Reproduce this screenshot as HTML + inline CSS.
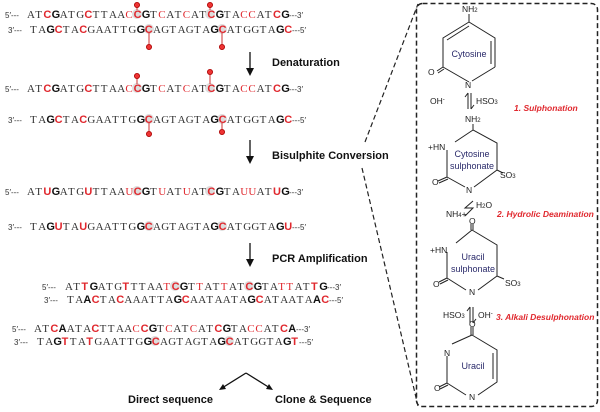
<!DOCTYPE html>
<html><head><meta charset="utf-8"><style>
html,body{margin:0;padding:0;background:#fff}
svg{display:block}
.s{font-family:"Liberation Serif",serif;font-size:11px;fill:#333}
.p{font-family:"Liberation Sans",sans-serif;font-size:8px;fill:#333}
.b{font-family:"Liberation Sans",sans-serif;font-weight:bold;fill:#111}
.r{fill:#e0282e}
.R{font-family:"Liberation Sans",sans-serif;font-weight:bold;fill:#e0282e}
.lab{font-family:"Liberation Sans",sans-serif;font-weight:bold;font-size:11px;fill:#111}
.ch{font-family:"Liberation Sans",sans-serif;font-size:8.5px;fill:#222}
.nm{font-family:"Liberation Sans",sans-serif;font-size:9px;fill:#2a2a6a}
.st{font-family:"Liberation Sans",sans-serif;font-size:8.5px;font-weight:bold;font-style:italic;fill:#e0282e}
</style></head><body>
<svg width="600" height="412" viewBox="0 0 600 412" xmlns="http://www.w3.org/2000/svg">

<!-- Row 1 (double) -->
<g>
<circle cx="137" cy="14" r="5" fill="#ddd"/><circle cx="210" cy="14" r="5" fill="#ddd"/>
<circle cx="149" cy="29" r="5" fill="#ddd"/><circle cx="222" cy="29" r="5" fill="#ddd"/>
<line x1="137" y1="6" x2="137" y2="10" stroke="#c33"/><circle cx="137" cy="5" r="2.6" fill="#e33" stroke="#a00" stroke-width="0.8"/>
<line x1="210" y1="6" x2="210" y2="10" stroke="#c33"/><circle cx="210" cy="5" r="2.6" fill="#e33" stroke="#a00" stroke-width="0.8"/>
<line x1="149" y1="33" x2="149" y2="45" stroke="#c33"/><circle cx="149" cy="47" r="2.6" fill="#e33" stroke="#a00" stroke-width="0.8"/>
<line x1="222" y1="33" x2="222" y2="45" stroke="#c33"/><circle cx="222" cy="47" r="2.6" fill="#e33" stroke="#a00" stroke-width="0.8"/>
<text class="p" x="5" y="18">5′---</text>
<text class="s" y="18" x="27 35.2 43.4 51.6 59.8 68 76.2 84.4 92.6 100.8 109 117.2 125.4 133.6 141.8 150 158.2 166.4 174.6 182.8 191 199.2 207.4 215.6 223.8 232 240.2 248.4 256.6 264.8 273 281.2">AT<tspan class="R">C</tspan><tspan class="b">G</tspan>ATG<tspan class="R">C</tspan>TTAA<tspan class="r">C</tspan><tspan class="R">C</tspan><tspan class="b">G</tspan>T<tspan class="r">C</tspan>AT<tspan class="r">C</tspan>AT<tspan class="R">C</tspan><tspan class="b">G</tspan>TA<tspan class="r">CC</tspan>AT<tspan class="R">C</tspan><tspan class="b">G</tspan></text>
<text class="p" x="289" y="18">---3′</text>
<text class="p" x="8" y="33">3′---</text>
<text class="s" y="33" x="30 38.2 46.4 54.6 62.8 71 79.2 87.4 95.6 103.8 112 120.2 128.4 136.6 144.8 153 161.2 169.4 177.6 185.8 194 202.2 210.4 218.6 226.8 235 243.2 251.4 259.6 267.8 276 284.2">TA<tspan class="b">G</tspan><tspan class="R">C</tspan>TA<tspan class="R">C</tspan>GAATTG<tspan class="b">G</tspan><tspan class="R">C</tspan>AGTAGTA<tspan class="b">G</tspan><tspan class="R">C</tspan>ATGGTA<tspan class="b">G</tspan><tspan class="R">C</tspan></text>
<text class="p" x="292" y="33">---5′</text>
</g>

<!-- Denaturation rows -->
<g>
<circle cx="137" cy="88" r="5" fill="#ddd"/><circle cx="210" cy="88" r="5" fill="#ddd"/>
<circle cx="149" cy="119" r="5" fill="#ddd"/><circle cx="222" cy="119" r="5" fill="#ddd"/>
<line x1="137" y1="78" x2="137" y2="84" stroke="#c33"/><circle cx="137" cy="76" r="2.6" fill="#e33" stroke="#a00" stroke-width="0.8"/>
<line x1="210" y1="75" x2="210" y2="84" stroke="#c33"/><circle cx="210" cy="72" r="2.6" fill="#e33" stroke="#a00" stroke-width="0.8"/>
<line x1="149" y1="123" x2="149" y2="132" stroke="#c33"/><circle cx="149" cy="134" r="2.6" fill="#e33" stroke="#a00" stroke-width="0.8"/>
<line x1="222" y1="123" x2="222" y2="130" stroke="#c33"/><circle cx="222" cy="132" r="2.6" fill="#e33" stroke="#a00" stroke-width="0.8"/>
<text class="p" x="5" y="92">5′---</text>
<text class="s" y="92" x="27 35.2 43.4 51.6 59.8 68 76.2 84.4 92.6 100.8 109 117.2 125.4 133.6 141.8 150 158.2 166.4 174.6 182.8 191 199.2 207.4 215.6 223.8 232 240.2 248.4 256.6 264.8 273 281.2">AT<tspan class="R">C</tspan><tspan class="b">G</tspan>ATG<tspan class="R">C</tspan>TTAA<tspan class="r">C</tspan><tspan class="R">C</tspan><tspan class="b">G</tspan>T<tspan class="r">C</tspan>AT<tspan class="r">C</tspan>AT<tspan class="R">C</tspan><tspan class="b">G</tspan>TA<tspan class="r">CC</tspan>AT<tspan class="R">C</tspan><tspan class="b">G</tspan></text>
<text class="p" x="289" y="92">---3′</text>
<text class="p" x="8" y="123">3′---</text>
<text class="s" y="123" x="30 38.2 46.4 54.6 62.8 71 79.2 87.4 95.6 103.8 112 120.2 128.4 136.6 144.8 153 161.2 169.4 177.6 185.8 194 202.2 210.4 218.6 226.8 235 243.2 251.4 259.6 267.8 276 284.2">TA<tspan class="b">G</tspan><tspan class="R">C</tspan>TA<tspan class="R">C</tspan>GAATTG<tspan class="b">G</tspan><tspan class="R">C</tspan>AGTAGTA<tspan class="b">G</tspan><tspan class="R">C</tspan>ATGGTA<tspan class="b">G</tspan><tspan class="R">C</tspan></text>
<text class="p" x="292" y="123">---5′</text>
</g>

<!-- Bisulphite rows -->
<g>
<circle cx="137" cy="191" r="5" fill="#ddd"/><circle cx="210" cy="191" r="5" fill="#ddd"/>
<circle cx="149" cy="226" r="5" fill="#ddd"/><circle cx="222" cy="226" r="5" fill="#ddd"/>
<text class="p" x="5" y="195">5′---</text>
<text class="s" y="195" x="27 35.2 43.4 51.6 59.8 68 76.2 84.4 92.6 100.8 109 117.2 125.4 133.6 141.8 150 158.2 166.4 174.6 182.8 191 199.2 207.4 215.6 223.8 232 240.2 248.4 256.6 264.8 273 281.2">AT<tspan class="R">U</tspan><tspan class="b">G</tspan>ATG<tspan class="R">U</tspan>TTAA<tspan class="r">U</tspan><tspan class="R">C</tspan><tspan class="b">G</tspan>T<tspan class="r">U</tspan>AT<tspan class="r">U</tspan>AT<tspan class="R">C</tspan><tspan class="b">G</tspan>TA<tspan class="r">UU</tspan>AT<tspan class="R">U</tspan><tspan class="b">G</tspan></text>
<text class="p" x="289" y="195">---3′</text>
<text class="p" x="8" y="230">3′---</text>
<text class="s" y="230" x="30 38.2 46.4 54.6 62.8 71 79.2 87.4 95.6 103.8 112 120.2 128.4 136.6 144.8 153 161.2 169.4 177.6 185.8 194 202.2 210.4 218.6 226.8 235 243.2 251.4 259.6 267.8 276 284.2">TA<tspan class="b">G</tspan><tspan class="R">U</tspan>TA<tspan class="R">U</tspan>GAATTG<tspan class="b">G</tspan><tspan class="R">C</tspan>AGTAGTA<tspan class="b">G</tspan><tspan class="R">C</tspan>ATGGTA<tspan class="b">G</tspan><tspan class="R">U</tspan></text>
<text class="p" x="292" y="230">---5′</text>
</g>

<!-- PCR rows 1 -->
<g>
<circle cx="175" cy="286" r="5" fill="#ddd"/><circle cx="249" cy="286" r="5" fill="#ddd"/>
<text class="p" x="42" y="290">5′---</text>
<text class="s" y="290" x="65 73.2 81.4 89.6 97.8 106 114.2 122.4 130.6 138.8 147 155.2 163.4 171.6 179.8 188 196.2 204.4 212.6 220.8 229 237.2 245.4 253.6 261.8 270 278.2 286.4 294.6 302.8 311 319.2">AT<tspan class="R">T</tspan><tspan class="b">G</tspan>ATG<tspan class="R">T</tspan>TTAA<tspan class="r">T</tspan><tspan class="R">C</tspan><tspan class="b">G</tspan>T<tspan class="r">T</tspan>AT<tspan class="r">T</tspan>AT<tspan class="R">C</tspan><tspan class="b">G</tspan>TA<tspan class="r">TT</tspan>AT<tspan class="R">T</tspan><tspan class="b">G</tspan></text>
<text class="p" x="327" y="290">---3′</text>
<text class="p" x="44" y="303">3′---</text>
<text class="s" y="303" x="67 75.2 83.4 91.6 99.8 108 116.2 124.4 132.6 140.8 149 157.2 165.4 173.6 181.8 190 198.2 206.4 214.6 222.8 231 239.2 247.4 255.6 263.8 272 280.2 288.4 296.6 304.8 313 321.2">TA<tspan class="b">A</tspan><tspan class="R">C</tspan>TA<tspan class="R">C</tspan>AAATTA<tspan class="b">G</tspan><tspan class="R">C</tspan>AATAATA<tspan class="b">G</tspan><tspan class="R">C</tspan>ATAATA<tspan class="b">A</tspan><tspan class="R">C</tspan></text>
<text class="p" x="329" y="303">---5′</text>
</g>

<!-- PCR rows 2 -->
<g>
<circle cx="155" cy="341" r="5" fill="#ddd"/><circle cx="229" cy="341" r="5" fill="#ddd"/>
<text class="p" x="12" y="332">5′---</text>
<text class="s" y="332" x="34 42.2 50.4 58.6 66.8 75 83.2 91.4 99.6 107.8 116 124.2 132.4 140.6 148.8 157 165.2 173.4 181.6 189.8 198 206.2 214.4 222.6 230.8 239 247.2 255.4 263.6 271.8 280 288.2">AT<tspan class="R">C</tspan><tspan class="b">A</tspan>ATA<tspan class="R">C</tspan>TTAA<tspan class="r">C</tspan><tspan class="R">C</tspan><tspan class="b">G</tspan>T<tspan class="r">C</tspan>AT<tspan class="r">C</tspan>AT<tspan class="R">C</tspan><tspan class="b">G</tspan>TA<tspan class="r">CC</tspan>AT<tspan class="R">C</tspan><tspan class="b">A</tspan></text>
<text class="p" x="296" y="332">---3′</text>
<text class="p" x="14" y="345">3′---</text>
<text class="s" y="345" x="37 45.2 53.4 61.6 69.8 78 86.2 94.4 102.6 110.8 119 127.2 135.4 143.6 151.8 160 168.2 176.4 184.6 192.8 201 209.2 217.4 225.6 233.8 242 250.2 258.4 266.6 274.8 283 291.2">TA<tspan class="b">G</tspan><tspan class="R">T</tspan>TA<tspan class="R">T</tspan>GAATTG<tspan class="b">G</tspan><tspan class="R">C</tspan>AGTAGTA<tspan class="b">G</tspan><tspan class="R">C</tspan>ATGGTA<tspan class="b">G</tspan><tspan class="R">T</tspan></text>
<text class="p" x="299" y="345">---5′</text>
</g>

<!-- Step arrows and labels -->
<line x1="250" y1="52" x2="250" y2="70" stroke="#111" stroke-width="1.3"/>
<path d="M246,68 L254,68 L250,76 Z" fill="#111"/>
<text class="lab" x="272" y="66">Denaturation</text>
<line x1="250" y1="140" x2="250" y2="158" stroke="#111" stroke-width="1.3"/>
<path d="M246,156 L254,156 L250,164 Z" fill="#111"/>
<text class="lab" x="272" y="159">Bisulphite Conversion</text>
<line x1="250" y1="243" x2="250" y2="261" stroke="#111" stroke-width="1.3"/>
<path d="M246,259 L254,259 L250,267 Z" fill="#111"/>
<text class="lab" x="272" y="262">PCR Amplification</text>
<line x1="246" y1="373" x2="222" y2="388" stroke="#111" stroke-width="1.3"/>
<path d="M219,390 L223,384 L226,389 Z" fill="#111"/>
<line x1="246" y1="373" x2="270" y2="388" stroke="#111" stroke-width="1.3"/>
<path d="M273,390 L266,389 L269,384 Z" fill="#111"/>
<text class="lab" x="128" y="403">Direct sequence</text>
<text class="lab" x="275" y="403">Clone &amp; Sequence</text>

<!-- zoom dashed lines -->
<line x1="365" y1="142" x2="418" y2="4" stroke="#222" stroke-width="1.2" stroke-dasharray="5,3"/>
<line x1="362" y1="168" x2="418" y2="406" stroke="#222" stroke-width="1.2" stroke-dasharray="5,3"/>
<rect x="416.5" y="3.5" width="181" height="403" rx="6" fill="none" stroke="#222" stroke-width="1.5" stroke-dasharray="5,3"/>

<!-- Chemistry -->
<g stroke="#222" stroke-width="1" fill="none">
<path d="M469,14 L469,22 L495,38 L495,67 M469,82 L443,67 L443,38 L469,22"/>
<path d="M447,40 L469,26 M491,41 L491,64 M495,67 L472,81"/>
<path d="M443,67 L437,71 M444,69 L438,73"/>
<path d="M468,93 L468,109 M471,93 L471,109 M468,93 L465,97 M471,109 L474,105"/>
<path d="M473,124 L473,130 L497,143 L497,170 L474,187 M465,187 L447,177 L447,150 M455,142 L473,130 M497,170 L503,173"/>
<path d="M447,177 L438,181 M448,179 L439,183"/>
<path d="M473,201 L465,208 L473,208 L465,216"/>
<path d="M473,224 L473,230 M471,224 L471,230 M472,230 L497,245 L497,276 L478,290 M466,290 L447,278 L447,252 M456,243 L472,230 M497,276 L504,279"/>
<path d="M447,278 L439,282 M448,280 L440,284"/>
<path d="M470,307 L470,323 M473,307 L473,323 M470,307 L467,311 M473,323 L476,319"/>
<path d="M473,327 L473,335 M471,327 L471,335 M472,335 L497,350 L497,382 L478,395 M466,395 L447,383 L447,356 M452,344 L472,335 M493,353 L493,379"/>
<path d="M447,383 L439,387 M448,385 L440,389"/>
</g>
<g>
<text class="ch" x="462" y="12">NH<tspan font-size="6">2</tspan></text>
<text class="nm" x="469" y="57" text-anchor="middle">Cytosine</text>
<text class="ch" x="428" y="75">O</text>
<text class="ch" x="465" y="88">N</text>
<text class="ch" x="430" y="104">OH<tspan font-size="6" dy="-3">-</tspan></text>
<text class="ch" x="476" y="104">HSO<tspan font-size="6">3</tspan></text>
<text class="st" x="514" y="111">1. Sulphonation</text>
<text class="ch" x="465" y="122">NH<tspan font-size="6">2</tspan></text>
<text class="ch" x="428" y="150">+HN</text>
<text class="nm" x="472" y="157" text-anchor="middle">Cytosine</text>
<text class="nm" x="472" y="169" text-anchor="middle">sulphonate</text>
<text class="ch" x="432" y="185">O</text>
<text class="ch" x="466" y="193">N</text>
<text class="ch" x="500" y="178">SO<tspan font-size="6">3</tspan></text>
<text class="ch" x="476" y="208">H<tspan font-size="6">2</tspan>O</text>
<text class="ch" x="446" y="217">NH<tspan font-size="6">4</tspan>+</text>
<text class="ch" x="469" y="224">O</text>
<text class="st" x="497" y="217">2. Hydrolic Deamination</text>
<text class="ch" x="430" y="253">+HN</text>
<text class="nm" x="473" y="260" text-anchor="middle">Uracil</text>
<text class="nm" x="473" y="272" text-anchor="middle">sulphonate</text>
<text class="ch" x="433" y="287">O</text>
<text class="ch" x="469" y="295">N</text>
<text class="ch" x="505" y="286">SO<tspan font-size="6">3</tspan></text>
<text class="ch" x="443" y="318">HSO<tspan font-size="6">3</tspan></text>
<text class="ch" x="478" y="318">OH<tspan font-size="6" dy="-3">-</tspan></text>
<text class="st" x="496" y="320">3. Alkali Desulphonation</text>
<text class="ch" x="469" y="327">O</text>
<text class="ch" x="444" y="356">N</text>
<text class="nm" x="473" y="369" text-anchor="middle">Uracil</text>
<text class="ch" x="434" y="391">O</text>
<text class="ch" x="469" y="400">N</text>
</g>
</svg>
</body></html>
